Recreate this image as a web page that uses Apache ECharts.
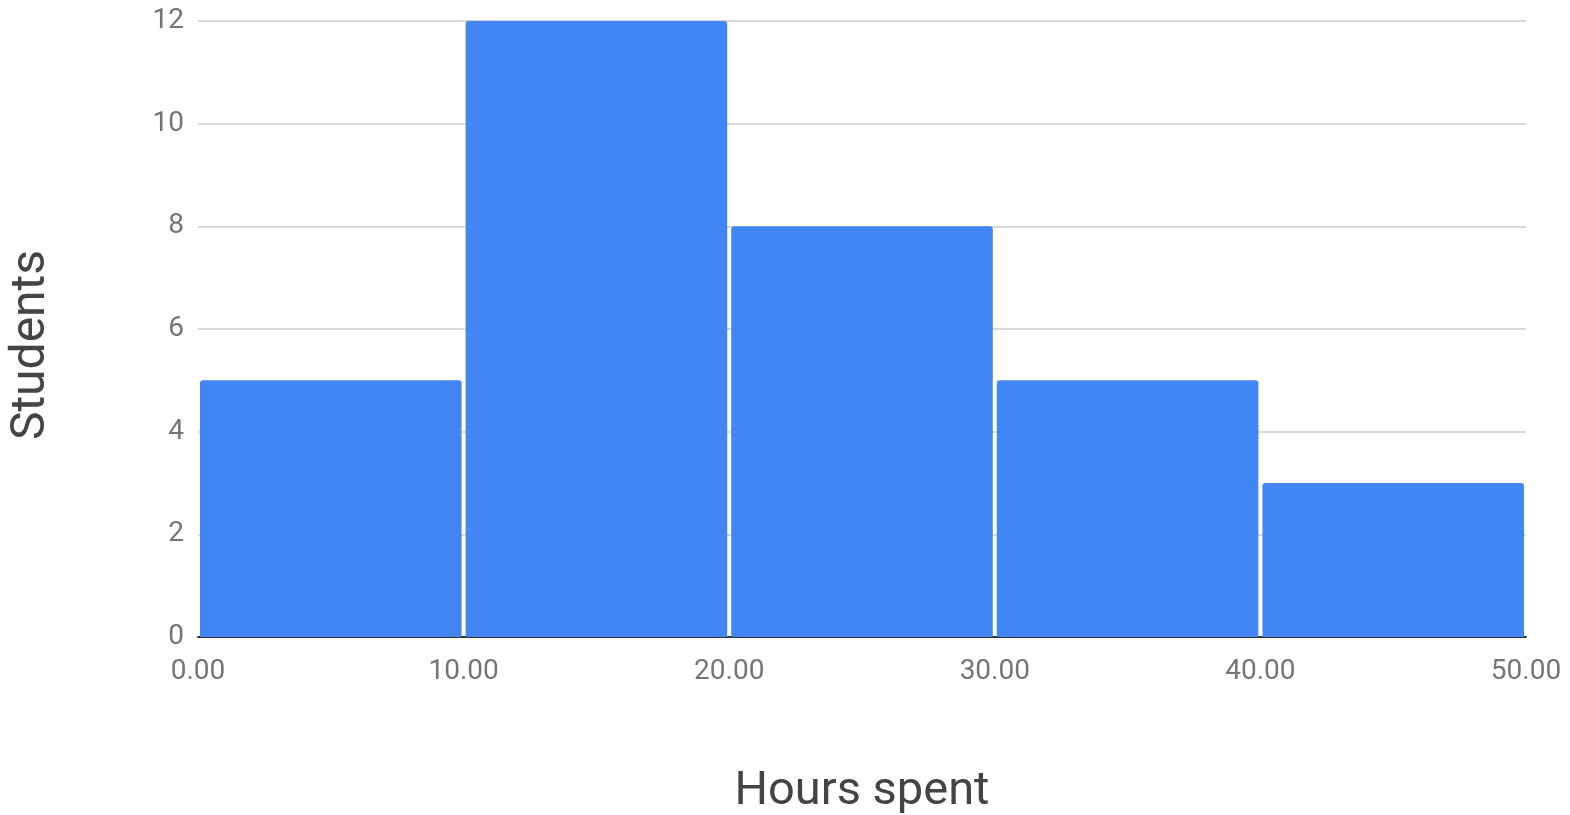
<!DOCTYPE html>
<html>
<head>
<meta charset="utf-8">
<script src="https://cdn.jsdelivr.net/npm/echarts@6/dist/echarts.min.js"></script>
<style>
  html, body { margin: 0; padding: 0; background: #fff; }
  #main { width: 1570px; height: 815px; }
</style>
</head>
<body>
<div id="main"></div>
<script>
// histogram bins (hours spent) and student counts
const binStarts = [0, 10, 20, 30, 40];
const binEnds = [10, 20, 30, 40, 50];
const counts = [5, 12, 8, 5, 3];

const chart = echarts.init(document.getElementById('main'));
const FONT = 'Roboto';

const data = binStarts.map((s, i) => [s, binEnds[i], counts[i]]);

chart.setOption({
  animation: false,
  grid: { left: 198, right: 44, top: 21, bottom: 178, outerBoundsMode: 'none', containLabel: false },
  xAxis: {
    type: 'value',
    min: 0, max: 50, interval: 10,
    name: 'Hours spent',
    nameLocation: 'middle',
    nameGap: 132,
    nameTextStyle: { fontFamily: FONT, fontSize: 47, color: '#444' },
    axisLine: { show: true, lineStyle: { color: '#333', width: 2 } },
    axisTick: { show: false },
    splitLine: { show: false },
    axisLabel: {
      fontFamily: FONT, fontSize: 28, color: '#757575', margin: 21,
      formatter: v => v.toFixed(2)
    }
  },
  yAxis: {
    type: 'value',
    min: 0, max: 12, interval: 2,
    name: 'Students',
    nameLocation: 'middle',
    nameGap: 142,
    nameRotate: 90,
    nameTextStyle: { fontFamily: FONT, fontSize: 48, color: '#444', padding: [0, 32, 0, 0] },
    axisLine: { show: false },
    axisTick: { show: false },
    splitLine: { lineStyle: { color: '#cccccc', width: 1.5 } },
    axisLabel: { fontFamily: FONT, fontSize: 28, color: '#757575', margin: 14 }
  },
  series: [{
    type: 'custom',
    data: data,
    encode: { x: [0, 1], y: 2 },
    renderItem: function (params, api) {
      const p0 = api.coord([api.value(0), api.value(2)]);
      const p1 = api.coord([api.value(1), 0]);
      return {
        type: 'rect',
        shape: { x: p0[0] + 2, y: p0[1], width: p1[0] - p0[0] - 4, height: p1[1] - p0[1], r: [3, 3, 0, 0] },
        style: { fill: '#4285f4' }
      };
    }
  }]
});
</script>
</body>
</html>
